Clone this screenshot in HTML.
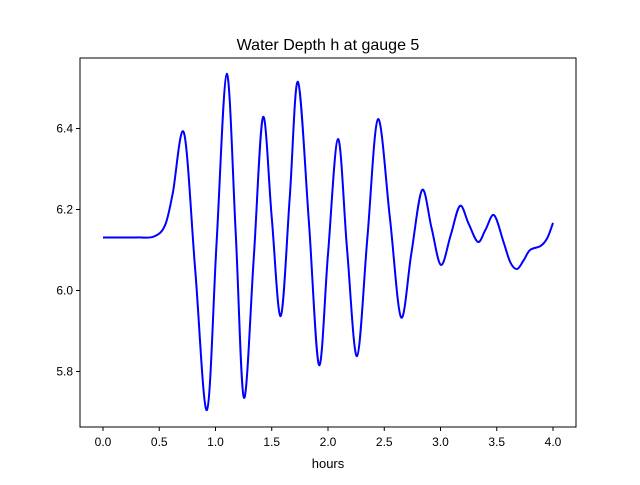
<!DOCTYPE html>
<html><head><meta charset="utf-8"><style>
body{margin:0;background:#fff;font-family:"Liberation Sans","DejaVu Sans",sans-serif}
</style></head><body>
<svg width="640" height="480" xmlns="http://www.w3.org/2000/svg" id="svg">
<rect width="640" height="480" fill="#fff"/>
<text x="328" y="50" text-anchor="middle" font-size="16">Water Depth h at gauge 5</text>
<text x="328" y="468" text-anchor="middle" font-size="13">hours</text>
<g id="ticks"></g>
<path id="line" fill="none" stroke="#0000ff" stroke-width="2"/>
<rect x="80" y="58" width="496" height="369" fill="none" stroke="#000" stroke-width="1"/>
</svg>
<script>
const xs=[0,0.3,0.45,0.55,0.62,0.72,0.82,0.924,1.01,1.10,1.18,1.253,1.34,1.422,1.50,1.58,1.66,1.733,1.83,1.92,2.0,2.089,2.17,2.258,2.35,2.444,2.55,2.649,2.74,2.836,2.92,3.004,3.09,3.173,3.25,3.333,3.40,3.476,3.56,3.62,3.68,3.74,3.796,3.89,3.95,4.0];
const ys=[6.131,6.131,6.133,6.16,6.24,6.389,6.05,5.705,6.12,6.535,6.14,5.735,6.08,6.428,6.18,5.937,6.23,6.515,6.17,5.816,6.09,6.374,6.1,5.838,6.13,6.423,6.18,5.934,6.09,6.248,6.155,6.063,6.136,6.209,6.165,6.12,6.15,6.186,6.12,6.07,6.053,6.075,6.1,6.11,6.13,6.167];
const xTicks=[0,0.5,1,1.5,2,2.5,3,3.5,4];
const yTicks=[5.8,6.0,6.2,6.4];
const X=v=>103+v*112.5, Y=v=>290.5-(v-6)*405;
const NS="http://www.w3.org/2000/svg",g=document.getElementById('ticks');
function mk(t,a){const e=document.createElementNS(NS,t);for(const k in a)e.setAttribute(k,a[k]);g.appendChild(e);return e;}
xTicks.forEach(v=>{const l=mk('line',{x1:X(v),x2:X(v),y1:427,y2:431,stroke:'#000'});


const t=mk('text',{x:X(v),y:446,'text-anchor':'middle','font-size':'12'});t.textContent=v.toFixed(1);

});
yTicks.forEach(v=>{const l=mk('line',{x1:76,x2:80,y1:Y(v),y2:Y(v),stroke:'#000'});


const t=mk('text',{x:73,y:Y(v)+4,'text-anchor':'end','font-size':'12'});t.textContent=v.toFixed(1);

});
const P=xs.map((x,i)=>[X(x),Y(ys[i])]);
let d='M'+P[0][0]+','+P[0][1];
for(let i=0;i<P.length-1;i++){const p0=P[i-1]||P[i],p1=P[i],p2=P[i+1],p3=P[i+2]||P[i+1];
const c1=[p1[0]+(p2[0]-p0[0])/6,p1[1]+(p2[1]-p0[1])/6],c2=[p2[0]-(p3[0]-p1[0])/6,p2[1]-(p3[1]-p1[1])/6];
d+=` C${c1[0]},${c1[1]} ${c2[0]},${c2[1]} ${p2[0]},${p2[1]}`;}
document.getElementById('line').setAttribute('d',d);
</script>
</body></html>
